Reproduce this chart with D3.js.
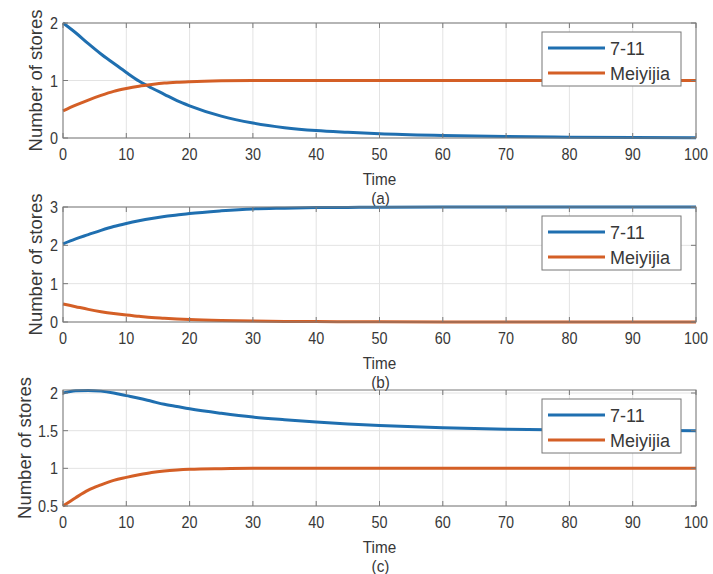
<!DOCTYPE html>
<html lang="en">
<head>
    <meta charset="UTF-8">
    <title>Number of stores over time</title>
    <script src="https://d3js.org/d3.v7.min.js"></script>
    <style>
        body { margin: 0; background: #fff; }
        .grid line { stroke: #e3e3e3; stroke-width: 1px; }
        .frame { fill: none; stroke: #7a7a7a; stroke-width: 1px; }
        .tick-mark { stroke: #7a7a7a; stroke-width: 1px; }
        text { font-family: "Liberation Sans", Arial, sans-serif; fill: #383838; }
        .series { fill: none; stroke-width: 3px; }
    </style>
</head>
<body>
    <div id="chart"></div>

    <script>
        // time samples shared by every panel
        const time = [0, 2, 4, 6, 8, 10, 12, 14, 16, 18, 20, 25, 30, 35, 40, 45, 50, 60, 70, 80, 90, 100];
        const xTicks = [0, 10, 20, 30, 40, 50, 60, 70, 80, 90, 100];
        const seriesNames = ["7-11", "Meiyijia"];
        const seriesColors = ["#1f6fb0", "#d45f26"];

        // panel (a)
        const a711 = [2.0, 1.83, 1.64, 1.46, 1.30, 1.14, 0.99, 0.87, 0.76, 0.65, 0.56, 0.38, 0.26, 0.18, 0.13, 0.10, 0.075, 0.045, 0.025, 0.015, 0.008, 0.005];
        const aMei = [0.47, 0.57, 0.66, 0.74, 0.81, 0.86, 0.90, 0.93, 0.955, 0.97, 0.98, 0.995, 1, 1, 1, 1, 1, 1, 1, 1, 1, 1];
        // panel (b)
        const b711 = [2.04, 2.17, 2.28, 2.39, 2.49, 2.57, 2.64, 2.70, 2.75, 2.79, 2.83, 2.90, 2.95, 2.97, 2.985, 2.99, 2.995, 3, 3, 3, 3, 3];
        const bMei = [0.47, 0.40, 0.33, 0.27, 0.22, 0.18, 0.15, 0.12, 0.10, 0.08, 0.065, 0.04, 0.025, 0.015, 0.01, 0.007, 0.005, 0.002, 0, 0, 0, 0];
        // panel (c)
        const c711 = [2.0, 2.03, 2.035, 2.025, 2.0, 1.965, 1.93, 1.89, 1.85, 1.82, 1.79, 1.73, 1.68, 1.645, 1.615, 1.59, 1.57, 1.54, 1.52, 1.51, 1.505, 1.5];
        const cMei = [0.5, 0.61, 0.71, 0.78, 0.84, 0.88, 0.915, 0.945, 0.965, 0.978, 0.987, 0.996, 1, 1, 1, 1, 1, 1, 1, 1, 1, 1];

        const panels = [
            { tag: "(a)", top: 23, bottom: 138, domain: [0, 2], ticks: [0, 1, 2], labelX: 42, series: [a711, aMei] },
            { tag: "(b)", top: 207, bottom: 322, domain: [0, 3], ticks: [0, 1, 2, 3], labelX: 42, series: [b711, bMei] },
            { tag: "(c)", top: 390, bottom: 506, domain: [0.5, 2.04], ticks: [0.5, 1, 1.5, 2], labelX: 31, series: [c711, cMei] }
        ];

        const width = 713, height = 574;
        const left = 63, right = 696;

        const svg = d3.select("#chart")
            .append("svg")
            .attr("width", width)
            .attr("height", height);

        const x = d3.scaleLinear().domain([0, 100]).range([left, right]);

        panels.forEach(p => {
            const y = d3.scaleLinear().domain(p.domain).range([p.bottom, p.top]);
            const g = svg.append("g");

            // grid
            const grid = g.append("g").attr("class", "grid");
            grid.selectAll(".gx").data(xTicks).enter().append("line")
                .attr("x1", d => x(d)).attr("x2", d => x(d))
                .attr("y1", p.top).attr("y2", p.bottom);
            grid.selectAll(".gy").data(p.ticks).enter().append("line")
                .attr("x1", left).attr("x2", right)
                .attr("y1", d => y(d)).attr("y2", d => y(d));

            // curves
            const line = d3.line()
                .x((d, i) => x(time[i]))
                .y(d => y(d))
                .curve(d3.curveMonotoneX);
            p.series.forEach((s, k) => {
                g.append("path")
                    .attr("class", "series")
                    .attr("stroke", seriesColors[k])
                    .attr("d", line(s));
            });

            // frame and inward ticks
            g.append("rect").attr("class", "frame")
                .attr("x", left).attr("y", p.top)
                .attr("width", right - left).attr("height", p.bottom - p.top);
            const tl = 5;
            xTicks.forEach(t => {
                g.append("line").attr("class", "tick-mark")
                    .attr("x1", x(t)).attr("x2", x(t)).attr("y1", p.bottom).attr("y2", p.bottom - tl);
                g.append("line").attr("class", "tick-mark")
                    .attr("x1", x(t)).attr("x2", x(t)).attr("y1", p.top).attr("y2", p.top + tl);
            });
            p.ticks.forEach(t => {
                g.append("line").attr("class", "tick-mark")
                    .attr("x1", left).attr("x2", left + tl).attr("y1", y(t)).attr("y2", y(t));
                g.append("line").attr("class", "tick-mark")
                    .attr("x1", right).attr("x2", right - tl).attr("y1", y(t)).attr("y2", y(t));
            });

            // tick labels
            g.selectAll(".xl").data(xTicks).enter().append("text")
                .attr("transform", d => `translate(${x(d)},${p.bottom + 22}) scale(1,1.13)`)
                .attr("text-anchor", "middle")
                .style("font-size", "14.4px")
                .text(d => d);
            g.selectAll(".yl").data(p.ticks).enter().append("text")
                .attr("transform", d => `translate(${left - 5},${y(d) + 6}) scale(1,1.13)`)
                .attr("text-anchor", "end")
                .style("font-size", "14.4px")
                .text(d => d);

            // axis titles
            g.append("text")
                .attr("transform", `translate(${(left + right) / 2},${p.bottom + 47}) scale(1,1.12)`)
                .attr("text-anchor", "middle")
                .style("font-size", "15.3px")
                .text("Time");
            g.append("text")
                .attr("transform", `translate(${(left + right) / 2 + 1},${p.bottom + 66}) scale(1,1.12)`)
                .attr("text-anchor", "middle")
                .style("font-size", "15.3px")
                .text(p.tag);
            g.append("text")
                .attr("transform", `translate(${p.labelX},${(p.top + p.bottom) / 2}) rotate(-90)`)
                .attr("text-anchor", "middle")
                .style("font-size", "18.5px")
                .text("Number of stores");

            // legend
            const lx = 542, ly = p.top + 9;
            const lg = g.append("g");
            lg.append("rect")
                .attr("x", lx).attr("y", ly).attr("width", 139).attr("height", 54)
                .attr("fill", "#fff").attr("stroke", "#777").attr("stroke-width", 1);
            seriesNames.forEach((name, k) => {
                const cy = ly + 16 + k * 25;
                lg.append("line")
                    .attr("x1", lx + 6).attr("x2", lx + 63)
                    .attr("y1", cy).attr("y2", cy)
                    .attr("stroke", seriesColors[k]).attr("stroke-width", 3);
                lg.append("text")
                    .attr("x", lx + 68).attr("y", cy + 6.5)
                    .style("font-size", "18px")
                    .text(name);
            });
        });
    </script>
</body>
</html>
